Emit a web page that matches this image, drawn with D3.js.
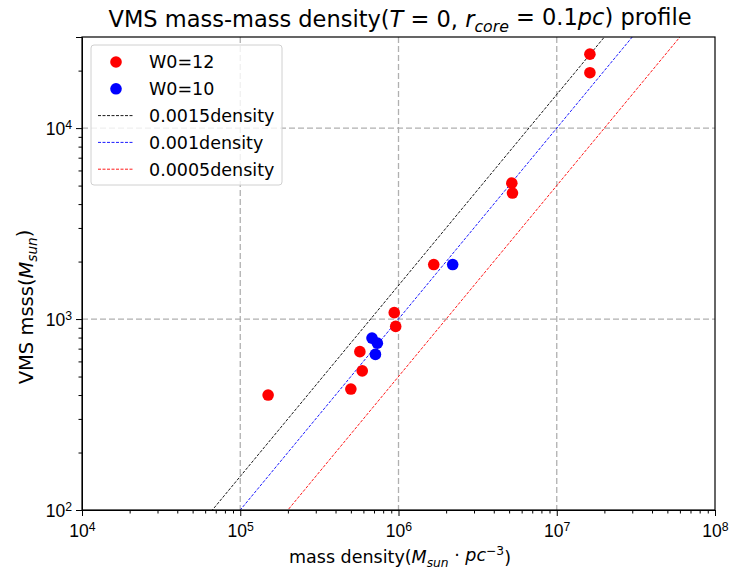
<!DOCTYPE html>
<html>
<head>
<meta charset="utf-8">
<script src="https://cdn.jsdelivr.net/npm/d3@7"></script>
<style>
  body { margin: 0; background: #fff; }
  svg { font-family: "DejaVu Sans", sans-serif; }
</style>
</head>
<body>
<svg width="733" height="569"></svg>
<script>
// W0=12 points (density, VMS mass)
const w12Density = [1.62e7, 1.62e7, 5.2e6, 5.25e6, 1.67e6, 9.4e5, 9.6e5, 5.7e5, 5.9e5, 5.0e5, 1.5e5];
const w12Mass = [24400, 19500, 5150, 4570, 1930, 1080, 915, 675, 535, 430, 400];
// W0=10 points
const w10Density = [2.2e6, 6.8e5, 7.35e5, 7.15e5];
const w10Mass = [1930, 795, 748, 653];
// reference lines mass = k * density
const lineFactors = [0.0015, 0.001, 0.0005];
const lineColors = ["black", "blue", "red"];
const lineLabels = ["0.0015density", "0.001density", "0.0005density"];
const xTicks = [1e4, 1e5, 1e6, 1e7, 1e8];
const yTicks = [1e2, 1e3, 1e4];

const svg = d3.select("svg");
const box = {left: 82, right: 715, top: 37, bottom: 510};

const x = d3.scaleLog().domain([1e4, 1e8]).range([box.left, box.right]);
const y = d3.scaleLog().domain([1e2, 3e4]).range([box.bottom, box.top]);

svg.append("defs").append("clipPath").attr("id", "clip")
  .append("rect").attr("x", box.left).attr("y", box.top)
  .attr("width", box.right - box.left).attr("height", box.bottom - box.top);

// grid
const grid = svg.append("g");
grid.selectAll(".gx").data(xTicks.slice(1, -1)).enter().append("line")
  .attr("x1", d => x(d)).attr("x2", d => x(d))
  .attr("y1", box.top).attr("y2", box.bottom)
  .attr("stroke", "#b0b0b0").attr("stroke-width", 1.3).attr("stroke-dasharray", "6,3");
grid.selectAll(".gy").data(yTicks.slice(1)).enter().append("line")
  .attr("x1", box.left).attr("x2", box.right)
  .attr("y1", d => y(d)).attr("y2", d => y(d))
  .attr("stroke", "#b0b0b0").attr("stroke-width", 1.3).attr("stroke-dasharray", "6,3");

// reference lines
const plot = svg.append("g").attr("clip-path", "url(#clip)");
lineFactors.forEach((k, i) => {
  plot.append("line")
    .attr("x1", x(1e4)).attr("y1", y(k * 1e4))
    .attr("x2", x(1e8)).attr("y2", y(k * 1e8))
    .attr("stroke", lineColors[i]).attr("stroke-width", 0.9)
    .attr("stroke-dasharray", "3,1.5");
});

// points
const r = 5.8;
plot.selectAll(".p12").data(w12Density).enter().append("circle")
  .attr("cx", d => x(d)).attr("cy", (d, i) => y(w12Mass[i]))
  .attr("r", r).attr("fill", "red");
plot.selectAll(".p10").data(w10Density).enter().append("circle")
  .attr("cx", d => x(d)).attr("cy", (d, i) => y(w10Mass[i]))
  .attr("r", r).attr("fill", "blue");

// axes
function powLabel(sel, d) {
  const e = Math.round(Math.log10(d));
  sel.text("10").append("tspan").attr("dy", "-0.5em").attr("font-size", "0.7em").text(e);
}

const xAxis = svg.append("g").attr("transform", `translate(0,${box.bottom})`)
  .call(d3.axisBottom(x).tickValues(xTicks).tickFormat("").tickSizeOuter(0).tickSize(6));
const xMinor = [];
for (let e = 4; e < 8; e++) for (let m = 2; m < 10; m++) xMinor.push(m * Math.pow(10, e));
svg.append("g").attr("transform", `translate(0,${box.bottom})`)
  .call(d3.axisBottom(x).tickValues(xMinor).tickFormat("").tickSizeOuter(0).tickSize(3.5))
  .select(".domain").remove();
xAxis.selectAll(".tick").append("text")
  .attr("y", 27).attr("fill", "black").attr("text-anchor", "middle")
  .attr("font-size", 17.5).each(function(d) { powLabel(d3.select(this), d); });

const yAxis = svg.append("g").attr("transform", `translate(${box.left},0)`)
  .call(d3.axisLeft(y).tickValues(yTicks).tickFormat("").tickSizeOuter(0).tickSize(6));
const yMinor = [];
for (let e = 2; e < 5; e++) for (let m = 2; m < 10; m++) {
  const v = m * Math.pow(10, e);
  if (v <= 3e4) yMinor.push(v);
}
svg.append("g").attr("transform", `translate(${box.left},0)`)
  .call(d3.axisLeft(y).tickValues(yMinor).tickFormat("").tickSizeOuter(0).tickSize(3.5))
  .select(".domain").remove();
yAxis.selectAll(".tick").append("text")
  .attr("x", -10).attr("dy", "0.35em").attr("fill", "black").attr("text-anchor", "end")
  .attr("font-size", 17.5).each(function(d) { powLabel(d3.select(this), d); });

svg.selectAll(".domain").attr("stroke", "black");
svg.selectAll(".tick line").attr("stroke", "black");

// frame
svg.append("rect").attr("x", box.left).attr("y", box.top)
  .attr("width", box.right - box.left).attr("height", box.bottom - box.top)
  .attr("fill", "none").attr("stroke", "black").attr("stroke-width", 1.2);

// title
const title = svg.append("text").attr("x", 400).attr("y", 27)
  .attr("text-anchor", "middle").attr("font-size", 22.5);
title.append("tspan").text("VMS mass-mass density(");
title.append("tspan").attr("font-style", "italic").text("T");
title.append("tspan").text(" = 0, ");
title.append("tspan").attr("font-style", "italic").text("r");
title.append("tspan").attr("font-style", "italic").attr("font-size", "0.7em").attr("dy", "0.3em").text("core");
title.append("tspan").attr("dy", "-0.3em").text(" = 0.1");
title.append("tspan").attr("font-style", "italic").text("pc");
title.append("tspan").text(") profile");

// x label
const xl = svg.append("text").attr("x", 400).attr("y", 563)
  .attr("text-anchor", "middle").attr("font-size", 17.5);
xl.append("tspan").text("mass density(");
xl.append("tspan").attr("font-style", "italic").text("M");
xl.append("tspan").attr("font-style", "italic").attr("font-size", "0.7em").attr("dy", "0.3em").text("sun");
xl.append("tspan").attr("dy", "-0.3em").text(" · ");
xl.append("tspan").attr("font-style", "italic").text("pc");
xl.append("tspan").attr("font-size", "0.7em").attr("dy", "-0.5em").text("−3");
xl.append("tspan").attr("dy", "0.5em").text(")");

// y label
const yl = svg.append("text").attr("transform", "translate(33,307) rotate(-90)")
  .attr("text-anchor", "middle").attr("font-size", 19.5);
yl.append("tspan").text("VMS msss(");
yl.append("tspan").attr("font-style", "italic").text("M");
yl.append("tspan").attr("font-style", "italic").attr("font-size", "0.7em").attr("dy", "0.3em").text("sun");
yl.append("tspan").attr("dy", "-0.3em").text(")");

// legend
const lg = svg.append("g");
lg.append("rect").attr("x", 91).attr("y", 45).attr("width", 191).attr("height", 140)
  .attr("rx", 3).attr("fill", "white").attr("fill-opacity", 0.8)
  .attr("stroke", "#d0d0d0").attr("stroke-width", 1);
const legendItems = [
  {type: "dot", color: "red", label: "W0=12"},
  {type: "dot", color: "blue", label: "W0=10"}
].concat(lineLabels.map((l, i) => ({type: "line", color: lineColors[i], label: l})));
legendItems.forEach((it, i) => {
  const cy = 62 + i * 26.8;
  if (it.type === "dot") {
    lg.append("circle").attr("cx", 116).attr("cy", cy).attr("r", r).attr("fill", it.color);
  } else {
    lg.append("line").attr("x1", 98).attr("x2", 134).attr("y1", cy).attr("y2", cy)
      .attr("stroke", it.color).attr("stroke-width", 0.9).attr("stroke-dasharray", "3,1.5");
  }
  lg.append("text").attr("x", 149).attr("y", cy).attr("dy", "0.36em")
    .attr("font-size", 17.5).text(it.label);
});
</script>
</body>
</html>
